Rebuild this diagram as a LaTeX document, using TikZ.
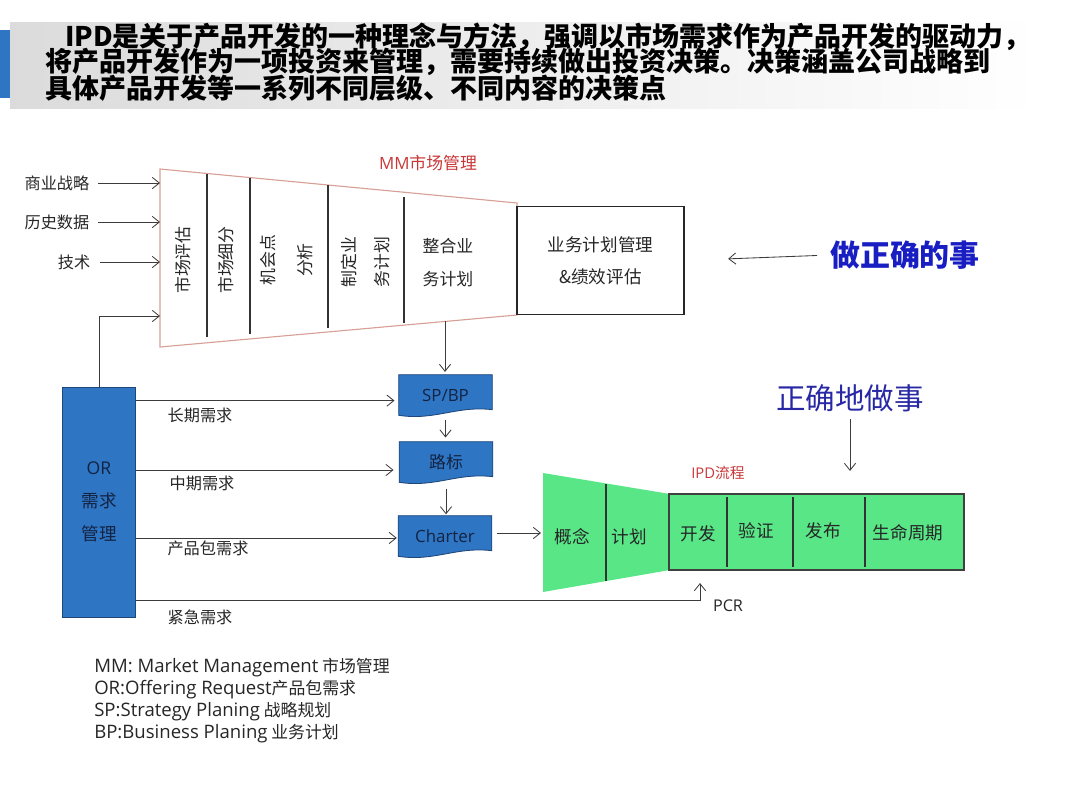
\documentclass[tikz,border=0pt]{standalone}
\usepackage{fontspec}
\setmainfont{Noto Sans CJK SC}
\newfontfamily\latfont{Open Sans}
\newfontfamily\legfont{Open Sans}[Scale=1.1]
\usetikzlibrary{arrows.meta,backgrounds}
\definecolor{orblue}{RGB}{46,117,196}
\definecolor{orline}{RGB}{31,70,120}
\definecolor{ipdgreen}{RGB}{88,230,135}
\definecolor{mmline}{RGB}{215,160,150}
\definecolor{labelred}{RGB}{200,55,55}
\definecolor{doblue}{RGB}{25,30,195}
\definecolor{rightblue}{RGB}{40,40,165}
\definecolor{linegray}{RGB}{60,60,60}
\definecolor{textnavy}{RGB}{20,35,65}
\newcommand{\fsz}[2]{\fontsize{#1}{#2}\selectfont}
\newcommand{\docpath}[1]{(#1.north west) -- (#1.north east) -- ([yshift=4pt]#1.south east) .. controls ([xshift=-0.9cm,yshift=7pt]#1.south east) and ([xshift=0.9cm,yshift=-4pt]#1.south west) .. (#1.south west) -- cycle}

\begin{document}
\begin{tikzpicture}[x=0.025cm,y=-0.025cm,
  arr/.style={draw=linegray,line width=0.6pt,-{Straight Barb[length=5pt,width=8pt]}},
  lbl/.style={font=\fsz{11.5pt}{14pt},text=black!85,inner sep=0pt},
  mmtxt/.style={font=\fsz{12pt}{14pt},text=black!85,inner sep=0pt},
  doc/.style={minimum width=2.325cm,minimum height=1cm,inner sep=0pt,font=\fsz{12pt}{14pt},text=textnavy},
  ipdtxt/.style={font=\fsz{12.5pt}{14pt},text=black!85,inner sep=0pt},
  divider/.style={draw=black!80,line width=0.8pt}]
\useasboundingbox (0,0) rectangle (1080,810);

\shade[left color=black!14,right color=white] (10,22) rectangle (1040,108);
\fill[orblue] (0,30) rectangle (10,98);
\node[anchor=west,inner sep=0pt,font=\fsz{19.2pt}{22pt}\bfseries] (head1) at (65,37) {IPD是关于产品开发的一种理念与方法，强调以市场需求作为产品开发的驱动力，};
\node[anchor=west,inner sep=0pt,font=\fsz{19.2pt}{22pt}\bfseries] (head2) at (45,62) {将产品开发作为一项投资来管理，需要持续做出投资决策。决策涵盖公司战略到};
\node[anchor=west,inner sep=0pt,font=\fsz{19.2pt}{22pt}\bfseries] (head3) at (45,88) {具体产品开发等一系列不同层级、不同内容的决策点};

\draw[mmline,line width=0.8pt] (160,169) -- (517,203) -- (517,315) -- (160,347) -- cycle;
\draw[divider] (207,174) -- (207,337);
\draw[divider] (250,178) -- (250,334);
\draw[divider] (328,185) -- (328,328);
\draw[divider] (404,197) -- (404,323);
\node[labelred,inner sep=0pt,font=\fsz{12pt}{14pt}] (mmlabel) at (428,163) {{\latfont MM}市场管理};
\node[mmtxt,rotate=90] (eval) at (183,260) {市场评估};
\node[mmtxt,rotate=90] (segm) at (226,260) {市场细分};
\node[mmtxt,rotate=90] (oppa) at (268,260) {机会点};
\node[mmtxt,rotate=90] (oppb) at (305,260) {分析};
\node[mmtxt,rotate=90] (plana) at (349,262) {制定业};
\node[mmtxt,rotate=90] (planb) at (382,262) {务计划};
\node[mmtxt,align=center,font=\fsz{12pt}{23.5pt}] (integ) at (448,263) {整合业\\务计划};
\coordinate (mmleft) at (160,258);
\coordinate (orfb) at (160,316);
\coordinate (mmout) at (445,321);

\node[draw=black!85,line width=0.8pt,minimum width=4.175cm,minimum height=2.7cm,align=center,font=\fsz{12.5pt}{22.5pt},text=black!85] (bizbox) at (600.5,260.5) {业务计划管理\\\&绩效评估};
\node[doblue,inner sep=0pt,font=\fsz{21.3pt}{24pt}\bfseries] (doright) at (905,255) {做正确的事};
\draw[arr,shorten <=9pt,shorten >=31pt] (doright.west) -- (bizbox.east);

\node[lbl] (strat) at (57,183) {商业战略};
\node[lbl] (hist) at (57,222) {历史数据};
\node[lbl] (tech) at (74,262) {技术};
\draw[arr,shorten <=6pt] (strat.east) -- (strat -| mmleft);
\draw[arr,shorten <=6pt] (hist.east) -- (hist -| mmleft);
\draw[arr,shorten <=7pt] (tech.east) -- (tech -| mmleft);

\node[fill=orblue,draw=orline,line width=0.6pt,minimum width=1.825cm,minimum height=5.75cm,align=center,font=\fsz{12.5pt}{23.5pt},text=textnavy] (orbox) at (99,502) {{\latfont OR}\\需求\\管理};
\draw[arr] (orbox.north) |- (orfb);

\node[doc] (spbp) at (445.5,395) {\latfont SP/BP};
\node[doc] (roadmap) at (446,462) {路标};
\node[doc] (charter) at (445,536) {\latfont Charter};
\begin{scope}[on background layer]
\filldraw[fill=orblue,draw=orline,line width=0.6pt] \docpath{spbp};
\filldraw[fill=orblue,draw=orline,line width=0.6pt] \docpath{roadmap};
\filldraw[fill=orblue,draw=orline,line width=0.6pt] \docpath{charter};
\end{scope}
\draw[arr] (mmout) -- ([yshift=2pt]mmout |- spbp.north);
\draw[arr,shorten <=3pt,shorten >=3pt] (spbp.south) -- (spbp.south |- roadmap.north);
\draw[arr,shorten <=5pt,shorten >=1pt] (roadmap.south) -- (roadmap.south |- charter.north);

\draw[arr] ([yshift=-4pt]spbp.west -| orbox.east) -- ([yshift=-4pt,xshift=-3pt]spbp.west);
\draw[arr] ([yshift=-5.7pt]roadmap.west -| orbox.east) -- ([yshift=-5.7pt,xshift=-4pt]roadmap.west);
\draw[arr] ([yshift=-1.4pt]charter.west -| orbox.east) -- ([yshift=-1.4pt,xshift=-1pt]charter.west);
\node[lbl] (longreq) at (200,415) {长期需求};
\node[lbl] (midreq) at (202,483) {中期需求};
\node[lbl] (pkgreq) at (208,548) {产品包需求};
\node[lbl] (urgreq) at (200,617) {紧急需求};

\fill[ipdgreen] (543,473) -- (670,494) -- (670,570) -- (543,592) -- cycle;
\draw[divider] (606,484) -- (606,581);
\node[fill=ipdgreen,draw=black!75,line width=0.8pt,minimum width=7.375cm,minimum height=1.9cm] (ipdbox) at (816.5,532) {};
\foreach \x in {727,793,865} \draw[divider] (\x,497) -- (\x,567);
\coordinate (ipdin) at (541,533);
\draw[arr,shorten <=4pt] (charter.east |- ipdin) -- (ipdin);
\node[ipdtxt] (concept) at (572,537) {概念};
\node[ipdtxt] (plan) at (629,537) {计划};
\node[ipdtxt] (develop) at (698,534) {开发};
\node[ipdtxt] (verify) at (756,531) {验证};
\node[ipdtxt] (launch) at (823,531) {发布};
\node[ipdtxt] (lifecycle) at (908,533) {生命周期};
\node[labelred,inner sep=0pt,font=\fsz{10.5pt}{12pt}] (ipdlabel) at (718,473) {{\latfont IPD}流程};

\node[rightblue,inner sep=0pt,font=\fsz{21pt}{24pt}] (rightway) at (850,398) {正确地做事};
\draw[arr,shorten <=5pt,shorten >=16pt] (rightway.south) -- (rightway.south |- ipdbox.north);

\coordinate (pcrtip) at (700,583);
\draw[arr] (orbox.east |- 0,600) -| (pcrtip);
\node[lbl] (pcr) at (728,606) {\latfont PCR};

\node[anchor=north west,inner sep=0pt,align=left,font=\fsz{12pt}{15.6pt},text=black!85] (legend) at (94,658) {{\legfont MM: Market Management} 市场管理\\{\legfont OR:Offering Request}产品包需求\\{\legfont SP:Strategy Planing} 战略规划\\{\legfont BP:Business Planing} 业务计划};
\end{tikzpicture}
\end{document}
